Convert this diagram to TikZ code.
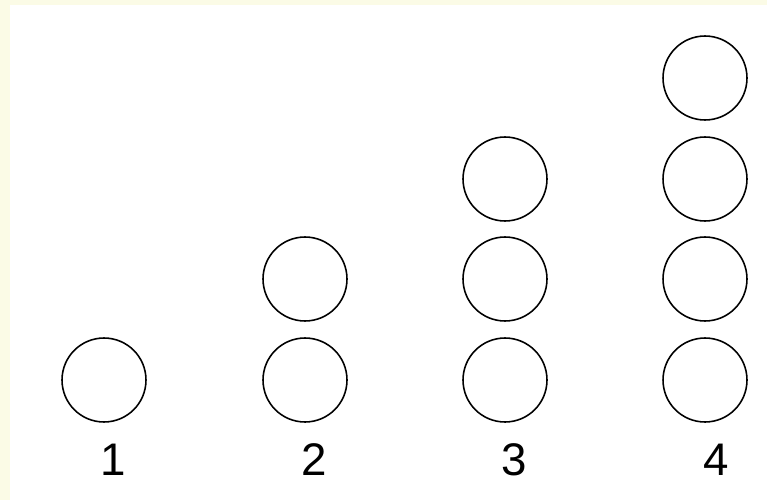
\documentclass[tikz,border=0pt]{standalone}
\usepackage{fontspec}
\setmainfont{Liberation Sans}
\usepackage{xcolor}
\definecolor{paleyellow}{HTML}{FBFBE6}

\begin{document}
\begin{tikzpicture}[
      x=0.02cm, y=-0.02cm,
      every node/.style={font=\fontsize{26}{30}\selectfont},
      ball/.style={draw, line width=0.9pt, circle, minimum size=1.68cm, inner sep=0pt},
      count/.style={inner sep=0pt, anchor=center},
    ]
    % frame
    \fill[paleyellow] (0, 0) rectangle (767, 500);
    \fill[white] (10, 5) rectangle (767, 500);
    \useasboundingbox (0, 0) rectangle (767, 500);

    \node[ball] (c1a) at (104, 380) {};

    \node[ball] (c2a) at (305, 380) {};
    \node[ball] (c2b) at (305, 279) {};

    \node[ball] (c3a) at (505, 380) {};
    \node[ball] (c3b) at (505, 279) {};
    \node[ball] (c3c) at (505, 179) {};

    \node[ball] (c4a) at (705, 380) {};
    \node[ball] (c4b) at (705, 279) {};
    \node[ball] (c4c) at (705, 179) {};
    \node[ball] (c4d) at (705, 78) {};

    \node[count] (n1) at (113, 460) {1};
    \node[count] (n2) at (314, 460) {2};
    \node[count] (n3) at (514, 460) {3};
    \node[count] (n4) at (716, 460) {4};
  \end{tikzpicture}
\end{document}
